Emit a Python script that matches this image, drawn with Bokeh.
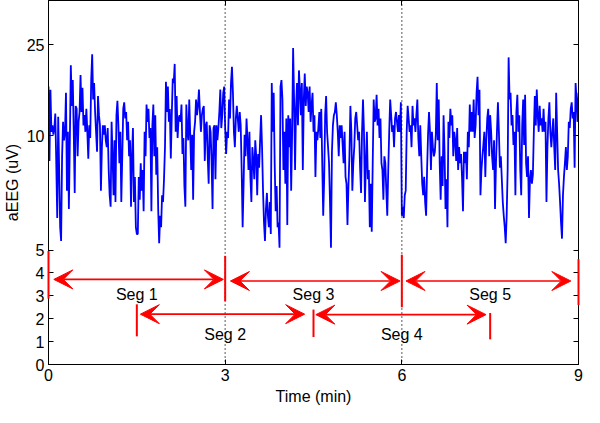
import numpy as np
from bokeh.plotting import figure
from bokeh.models import (Range1d, FixedTicker, LinearAxis, Span, Arrow, VeeHead,
                          ColumnDataSource, CustomJSTickFormatter)
from bokeh.embed import file_html
from bokeh.resources import INLINE
from bokeh.core.properties import value

AEEG_UV = [
    16.4, 8.9, 15.9, 10.4, 11.1, 10.1, 10.8, 12.5, 8.8, 6.4,
    12.1, 8.5, 6.0, 5.4, 9.1, 11.5, 9.8, 10.4, 15.4, 7.6,
    10.4, 6.8, 9.8, 20.3, 13.5, 17.5, 10.4, 7.5, 13.5, 13.1,
    9.1, 11.5, 12.7, 18.4, 12.7, 16.2, 11.1, 12.3, 10.4, 13.1,
    10.4, 9.0, 11.1, 9.9, 17.5, 22.7, 14.4, 17.0, 12.7, 10.4,
    9.3, 14.9, 12.3, 11.1, 7.6, 9.5, 11.1, 10.1, 11.1, 9.8,
    9.5, 10.8, 8.5, 7.4, 6.9, 11.5, 9.1, 7.4, 9.8, 7.1,
    12.3, 14.2, 11.1, 8.8, 10.4, 7.1, 9.1, 13.1, 14.0, 11.9,
    12.7, 9.8, 11.5, 9.1, 9.8, 6.9, 9.1, 10.8, 7.1, 8.2,
    6.0, 5.7, 5.7, 8.2, 7.2, 8.8, 7.6, 8.5, 6.7, 10.4,
    9.1, 13.7, 11.5, 13.1, 9.9, 10.8, 6.7, 11.1, 13.7, 9.1,
    12.3, 8.3, 9.5, 6.8, 5.3, 6.5, 6.0, 7.4, 7.1, 8.1,
    9.5, 17.2, 12.7, 16.4, 11.5, 13.1, 9.0, 12.3, 17.8, 17.0,
    20.6, 10.4, 14.9, 9.9, 11.9, 12.3, 11.5, 13.7, 9.2, 9.9,
    7.8, 6.9, 13.7, 10.4, 9.8, 14.4, 10.1, 8.5, 10.1, 7.2,
    10.4, 11.5, 14.4, 12.3, 13.5, 15.9, 12.7, 10.4, 12.3, 13.1,
    13.5, 8.9, 11.1, 11.5, 9.1, 7.9, 11.1, 10.4, 8.9, 6.8,
    10.8, 11.1, 8.1, 11.1, 9.8, 10.8, 12.7, 15.9, 10.8, 12.3,
    15.4, 16.4, 10.8, 9.2, 10.4, 9.9, 14.4, 11.9, 17.0, 20.0,
    15.4, 10.4, 9.5, 11.9, 13.5, 11.9, 10.4, 12.7, 11.1, 8.5,
    6.0, 7.9, 10.1, 9.1, 11.9, 9.8, 8.5, 10.4, 8.2, 7.1,
    9.5, 8.9, 8.1, 9.8, 9.1, 7.4, 9.2, 8.6, 9.8, 12.3,
    9.5, 7.6, 6.2, 5.4, 6.8, 7.5, 6.5, 6.0, 7.1, 5.7,
    17.0, 10.4, 15.4, 8.8, 6.7, 7.8, 6.0, 6.2, 5.1, 16.4,
    17.5, 14.4, 8.5, 10.4, 7.9, 11.9, 6.1, 12.3, 9.5, 11.9,
    7.6, 10.4, 24.2, 14.4, 8.5, 13.1, 17.0, 11.1, 19.3, 15.9,
    12.3, 17.0, 8.5, 14.4, 18.7, 13.5, 16.4, 15.4, 12.7, 16.4,
    11.5, 13.5, 15.4, 10.4, 12.3, 8.2, 10.4, 9.8, 10.8, 12.7,
    9.9, 13.1, 8.8, 6.5, 8.1, 12.3, 14.9, 10.4, 9.5, 8.8,
    7.1, 5.1, 9.3, 11.1, 12.3, 12.7, 14.0, 12.3, 10.4, 9.1,
    11.1, 9.9, 11.1, 9.6, 8.8, 10.4, 8.2, 7.9, 6.1, 7.8,
    9.1, 13.5, 10.4, 7.6, 8.8, 9.5, 11.9, 12.7, 11.1, 9.8,
    10.4, 8.6, 7.5, 10.4, 14.4, 10.4, 7.1, 8.8, 10.4, 8.1,
    8.5, 6.0, 7.9, 5.8, 8.8, 14.4, 11.5, 11.9, 15.1, 11.1,
    13.1, 9.9, 11.9, 8.8, 8.5, 7.2, 9.1, 8.8, 7.6, 6.5,
    8.5, 10.4, 14.4, 12.3, 10.4, 11.1, 9.5, 11.9, 12.7, 11.5,
    10.4, 12.3, 10.4, 14.0, 6.5, 6.9, 6.4, 7.4, 7.6, 10.4,
    13.5, 11.9, 10.4, 11.1, 9.5, 13.5, 11.1, 11.9, 10.4, 12.3,
    14.4, 9.9, 9.1, 11.1, 9.1, 7.9, 7.4, 8.2, 7.1, 6.5,
    8.5, 10.1, 12.7, 10.4, 8.5, 10.4, 9.5, 9.1, 9.3, 10.1,
    17.0, 9.8, 14.4, 8.8, 7.2, 9.1, 7.8, 12.3, 9.3, 6.8,
    8.1, 6.0, 11.5, 9.9, 13.1, 11.1, 12.3, 9.1, 10.4, 9.8,
    8.9, 10.8, 8.5, 9.5, 8.8, 9.2, 8.2, 6.7, 9.3, 8.8,
    9.3, 8.1, 10.4, 9.5, 13.7, 10.4, 12.7, 10.4, 14.4, 9.9,
    11.1, 15.4, 18.1, 12.3, 15.9, 7.4, 8.5, 9.1, 9.6, 10.4,
    8.2, 9.8, 11.9, 13.1, 9.1, 12.3, 10.4, 9.1, 8.5, 9.8,
    6.8, 8.8, 10.4, 14.0, 10.4, 8.6, 9.1, 8.1, 7.1, 6.5,
    6.0, 5.3, 6.5, 8.5, 22.0, 14.4, 15.4, 11.1, 12.3, 9.6,
    10.4, 7.4, 12.7, 15.1, 10.4, 12.3, 8.5, 7.4, 11.1, 14.4,
    9.6, 15.1, 8.8, 8.2, 9.1, 6.4, 8.1, 8.5, 7.9, 8.3,
    10.4, 14.9, 11.1, 15.9, 12.3, 10.4, 13.5, 11.1, 11.9, 10.4,
    13.1, 10.4, 11.5, 7.1, 9.5, 11.9, 14.0, 10.4, 9.5, 10.4,
    11.9, 9.5, 8.5, 15.4, 10.4, 8.5, 7.9, 7.1, 6.2, 5.5,
    7.4, 8.2, 8.8, 9.5, 8.5, 9.1, 11.5, 10.8, 13.1, 14.0,
    11.9, 12.7, 8.6, 17.0, 14.4, 11.5, 15.4,
]
RECORD_MIN = 9.0
TIME_MIN = np.linspace(0.0, RECORD_MIN, len(AEEG_UV))

X_TICKS = [0, 3, 6, 9]
Y_TICKS_UV = [0, 1, 2, 3, 4, 5, 10, 25]
Y_TICK_LABELS = ["0", "1", "2", "3", "4", "5", "10", "25"]
Y_TOP_UV = 39

# segment annotations (minutes / uV on the linear part of the scale)
SEG_NAMES = ["Seg 1", "Seg 2", "Seg 3", "Seg 4", "Seg 5"]
SEG_ARROW_START = [0.09, 1.56, 3.09, 4.54, 6.07]
SEG_ARROW_END = [2.97, 4.35, 5.97, 7.43, 8.87]
SEG_ARROW_Y = [3.72, 2.20, 3.65, 2.18, 3.65]
SEG_LABEL_X = [1.5, 3.0, 4.5, 6.0, 7.5]
SEG_LABEL_Y = [3.07, 1.32, 3.07, 1.32, 3.07]
MARK_X = [0, 1.5, 3, 4.5, 6, 7.5, 9]
MARK_LO = [2.88, 1.23, 2.77, 1.20, 2.50, 1.10, 2.60]
MARK_HI = [4.96, 2.63, 4.75, 2.40, 4.80, 2.25, 4.60]
DIVIDER_X = [3, 6]


def aeeg_scale(v):
    """aEEG display scale: linear 0-10 uV, logarithmic above 10 uV."""
    v = np.asarray(v, dtype=float)
    return np.where(v <= 10, v, 10 + 10 * np.log10(np.maximum(v, 10) / 10))


FONT = "Liberation Sans"
FS = "16px"

p = figure(width=584, height=407, output_backend="svg", toolbar_location=None,
           x_range=Range1d(0, RECORD_MIN), y_range=Range1d(0, float(aeeg_scale(Y_TOP_UV))),
           min_border_left=43, min_border_right=6, min_border_top=0, min_border_bottom=0)
p.xgrid.visible = False
p.ygrid.visible = False
p.outline_line_color = "black"
p.outline_line_width = 1
p.background_fill_color = "white"
p.border_fill_color = "white"

y_ticks = [float(t) for t in aeeg_scale(Y_TICKS_UV)]
yfmt = CustomJSTickFormatter(args=dict(labels=Y_TICK_LABELS), code="return labels[index];")
blank = CustomJSTickFormatter(code="return '';")

for ax in (p.xaxis[0], p.yaxis[0]):
    ax.major_tick_in = 5
    ax.major_tick_out = 0
    ax.minor_tick_in = 0
    ax.minor_tick_out = 0
    ax.major_label_text_font = FONT
    ax.major_label_text_font_size = FS
    ax.major_label_text_color = "black"
    ax.axis_label_text_font = FONT
    ax.axis_label_text_font_size = FS
    ax.axis_label_text_font_style = "normal"
    ax.axis_label_text_color = "black"
    ax.axis_line_color = "black"
    ax.major_tick_line_color = "black"
    ax.major_label_standoff = 4

p.xaxis[0].ticker = FixedTicker(ticks=X_TICKS)
p.xaxis[0].axis_label = "Time (min)"
p.xaxis[0].axis_label_standoff = 4
p.yaxis[0].ticker = FixedTicker(ticks=y_ticks)
p.yaxis[0].formatter = yfmt
p.yaxis[0].axis_label = "aEEG (uV)"
p.yaxis[0].axis_label_standoff = 3

top = LinearAxis(ticker=FixedTicker(ticks=X_TICKS), formatter=blank,
                 major_tick_in=5, major_tick_out=0, minor_tick_in=0, minor_tick_out=0,
                 major_label_standoff=0, axis_line_color="black")
right = LinearAxis(ticker=FixedTicker(ticks=y_ticks), formatter=blank,
                   major_tick_in=5, major_tick_out=0, minor_tick_in=0, minor_tick_out=0,
                   major_label_standoff=0, axis_line_color="black")
p.add_layout(top, "above")
p.add_layout(right, "right")

# signal
p.line(TIME_MIN, aeeg_scale(AEEG_UV), line_color="#0000ff", line_width=1.8)

# segment boundaries (dotted)
for x in DIVIDER_X:
    p.add_layout(Span(location=x, dimension="height", line_color="black",
                      line_dash="1 3", line_width=1.3))

# red boundary marks
mk = p.segment(x0=MARK_X, y0=aeeg_scale(MARK_LO).tolist(), x1=MARK_X,
               y1=aeeg_scale(MARK_HI).tolist(), line_color="#ff0000", line_width=2)
mk.level = "overlay"

# double-headed arrows
src = ColumnDataSource(dict(x0=SEG_ARROW_START, x1=SEG_ARROW_END,
                            y=aeeg_scale(SEG_ARROW_Y).tolist()))
arr = Arrow(start=VeeHead(size=19, fill_color="#ff0000", line_color="#ff0000", line_width=1),
            end=VeeHead(size=19, fill_color="#ff0000", line_color="#ff0000", line_width=1),
            x_start="x0", y_start="y", x_end="x1", y_end="y", source=src,
            line_color="#ff0000", line_width=1.6, level="overlay")
p.add_layout(arr)

# labels
lab = p.text(x=SEG_LABEL_X, y=aeeg_scale(SEG_LABEL_Y).tolist(), text=SEG_NAMES,
             text_font=value(FONT), text_font_size=value(FS), text_color="black",
             text_align="center", text_baseline="middle")
lab.level = "overlay"

open("out.html", "w").write(file_html(p, INLINE))
